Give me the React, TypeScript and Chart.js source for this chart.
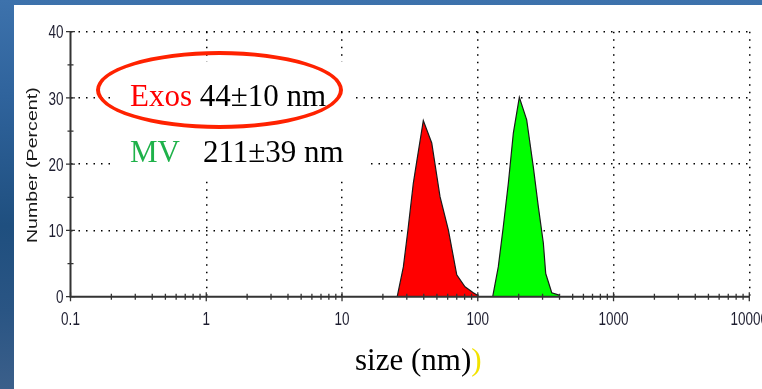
import React, { useEffect, useRef } from 'react';
import { Chart, registerables } from 'chart.js';

Chart.register(...registerables);

// ---- data (size in nm, number %) ----
const exosSize = [25.5, 28.3, 30.6, 33.5, 35.5, 39.7, 45.8, 52.7, 60.7, 70.0, 80.5, 92.7, 100.9];
const exosPct = [0, 4.5, 10.1, 17.1, 20.4, 26.6, 23.2, 15.1, 10.1, 3.3, 1.5, 0.6, 0.15];

const mvSize = [128.8, 141.6, 154.2, 167.9, 182.8, 202.3, 229.2, 256.4, 279.2, 304, 316.5, 350.6, 403.6];
const mvPct = [0, 4.5, 10.6, 17.1, 24.7, 30.1, 26.7, 19.6, 13.6, 8.1, 3.5, 0.6, 0.2];

const xTickValues = [0.1, 1, 10, 100, 1000, 10000];
const xTickLabels = ['0.1', '1', '10', '100', '1000', '10000'];
const yTickValues = [0, 10, 20, 30, 40];
const yTickLabels = ['0', '10', '20', '30', '40'];
const yMinorValues = [5, 15, 25, 35];
const xMinorMultipliers = [2, 3, 4, 5, 6, 7, 8, 9];

const yAxisTitle = 'Number (Percent)';

const AXIS_COLOR = '#333';
const LABEL_COLOR = '#1e1e30';
const STRETCH = 1.4;
const LABEL_FONT = '13.5px "Liberation Sans", Arial, sans-serif';
const TITLE_FONT = '14px "Liberation Sans", Arial, sans-serif';
const SERIF = '"Liberation Serif", "Times New Roman", serif';

const isDecade = (v: number) => Math.abs(Math.log10(v) - Math.round(Math.log10(v))) < 1e-6;

const axisPlugin = {
  id: 'axisDeco',
  afterDraw(chart: any) {
    const { ctx } = chart;
    const x = chart.scales.x;
    const y = chart.scales.y;
    const x0 = x.getPixelForValue(xTickValues[0]);
    const xr = x.getPixelForValue(xTickValues[xTickValues.length - 1]);
    const y0 = y.getPixelForValue(yTickValues[0]);
    const yt = y.getPixelForValue(yTickValues[yTickValues.length - 1]);
    ctx.save();
    // axis lines
    ctx.strokeStyle = AXIS_COLOR;
    ctx.lineWidth = 2;
    ctx.beginPath();
    ctx.moveTo(x0, yt);
    ctx.lineTo(x0, y0);
    ctx.lineTo(xr, y0);
    ctx.stroke();
    // ticks
    ctx.lineWidth = 1.3;
    ctx.beginPath();
    xTickValues.forEach((d, i) => {
      const px = x.getPixelForValue(d);
      ctx.moveTo(px, y0 - 4.5);
      ctx.lineTo(px, y0 + 4.5);
      if (i < xTickValues.length - 1) {
        xMinorMultipliers.forEach((m) => {
          const mp = x.getPixelForValue(d * m);
          ctx.moveTo(mp, y0 - 3);
          ctx.lineTo(mp, y0 + 3);
        });
      }
    });
    yTickValues.forEach((v) => {
      const py = y.getPixelForValue(v);
      ctx.moveTo(x0 - 4.5, py);
      ctx.lineTo(x0 + 4.5, py);
    });
    yMinorValues.forEach((v) => {
      const py = y.getPixelForValue(v);
      ctx.moveTo(x0 - 3, py);
      ctx.lineTo(x0 + 3, py);
    });
    ctx.stroke();

    // tick labels (vertically stretched like the reference)
    ctx.fillStyle = LABEL_COLOR;
    ctx.font = LABEL_FONT;
    ctx.textBaseline = 'middle';
    xTickValues.forEach((v, i) => {
      const px = x.getPixelForValue(v);
      ctx.save();
      ctx.translate(px, y0 + 23);
      ctx.scale(1, STRETCH);
      ctx.textAlign = 'center';
      ctx.fillText(xTickLabels[i], 0, 0);
      ctx.restore();
    });
    yTickValues.forEach((v, i) => {
      const py = y.getPixelForValue(v);
      ctx.save();
      ctx.translate(x0 - 7, py + 1.5);
      ctx.scale(1, STRETCH);
      ctx.textAlign = 'right';
      ctx.fillText(yTickLabels[i], 0, 0);
      ctx.restore();
    });
    // y axis title
    ctx.save();
    ctx.font = TITLE_FONT;
    ctx.fillStyle = '#1a1a1a';
    ctx.translate(18.7, (y0 + yt) / 2 + 1);
    ctx.rotate(-Math.PI / 2);
    ctx.scale(STRETCH, 1);
    ctx.textAlign = 'center';
    ctx.fillText(yAxisTitle, 0, 0);
    ctx.restore();

    ctx.restore();
  },
};

export default function App() {
  const canvasRef = useRef<HTMLCanvasElement | null>(null);

  useEffect(() => {
    document.body.style.margin = '0';
    const canvas = canvasRef.current;
    if (!canvas) return;
    const chart = new Chart(canvas, {
      type: 'line',
      data: {
        datasets: [
          {
            label: 'Exos',
            data: exosSize.map((s, i) => ({ x: s, y: exosPct[i] })),
            fill: 'origin',
            backgroundColor: '#ff0000',
            borderColor: '#1a1a1a',
            borderWidth: 1.2,
            pointRadius: 0,
            tension: 0,
          },
          {
            label: 'MV',
            data: mvSize.map((s, i) => ({ x: s, y: mvPct[i] })),
            fill: 'origin',
            backgroundColor: '#00ff00',
            borderColor: '#1a1a1a',
            borderWidth: 1.2,
            pointRadius: 0,
            tension: 0,
          },
        ],
      },
      options: {
        animation: false,
        responsive: false,
        layout: { padding: { left: 56.5, right: 12.7, top: 26.7, bottom: 92.3 } },
        plugins: { legend: { display: false }, tooltip: { enabled: false } },
        scales: {
          x: {
            type: 'logarithmic',
            min: xTickValues[0],
            max: xTickValues[xTickValues.length - 1],
            afterBuildTicks: (s: any) => {
              s.ticks = xTickValues.map((v) => ({ value: v, major: true }));
            },
            afterFit: (s: any) => {
              s.height = 0;
            },
            ticks: { display: false, autoSkip: false },
            grid: {
              drawTicks: false,
              lineWidth: 1.5,
              color: (c: any) => {
                const v = c.tick ? c.tick.value : undefined;
                return v !== undefined && v > xTickValues[0] && isDecade(v) ? '#000' : 'rgba(0,0,0,0)';
              },
            },
            border: { display: false, dash: [1.5, 6] },
          },
          y: {
            type: 'linear',
            min: yTickValues[0],
            max: yTickValues[yTickValues.length - 1],
            afterBuildTicks: (s: any) => {
              s.ticks = yTickValues.map((v) => ({ value: v }));
            },
            afterFit: (s: any) => {
              s.width = 0;
            },
            ticks: { display: false, autoSkip: false },
            grid: {
              drawTicks: false,
              lineWidth: 1.5,
              color: (c: any) => {
                const v = c.tick ? c.tick.value : undefined;
                return v !== undefined && v > yTickValues[0] ? '#000' : 'rgba(0,0,0,0)';
              },
            },
            border: { display: false, dash: [1.5, 6] },
          },
        },
      },
      plugins: [axisPlugin],
    } as any);
    return () => chart.destroy();
  }, []);

  const textBase: React.CSSProperties = {
    position: 'absolute',
    font: `31px ${SERIF}`,
    lineHeight: '31px',
    whiteSpace: 'pre',
    color: '#000',
  };

  return (
    <div
      style={{
        position: 'fixed',
        left: 0,
        top: 0,
        width: 762,
        height: 389,
        overflow: 'hidden',
        background:
          'linear-gradient(180deg, #3d72ac 0%, #2f639c 25%, #1f4f7f 58%, #2a5584 80%, #3b5f8a 100%)',
      }}
    >
      <div style={{ position: 'absolute', left: 14, top: 5, width: 748, height: 384, background: '#fff' }}>
        <canvas ref={canvasRef} width={748} height={384} style={{ display: 'block' }} />
      </div>
      {/* white boxes behind the annotation text */}
      <div style={{ position: 'absolute', left: 112, top: 62, width: 240, height: 68, background: '#fff' }} />
      <div style={{ position: 'absolute', left: 112, top: 130, width: 258, height: 50, background: '#fff' }} />
      <div
        style={{
          position: 'absolute',
          left: 96,
          top: 51,
          width: 247,
          height: 78,
          border: '4.5px solid #ff2200',
          borderRadius: '50%',
          boxSizing: 'border-box',
        }}
      />
      <div style={{ ...textBase, left: 130, top: 80 }}>
        <span style={{ color: '#ff0000' }}>Exos</span> 44±10 nm
      </div>
      <div style={{ ...textBase, left: 130, top: 136, color: '#1fb24a' }}>MV</div>
      <div style={{ ...textBase, left: 203, top: 136 }}>211±39 nm</div>
      <div style={{ ...textBase, left: 355, top: 344 }}>
        size (nm)<span style={{ color: '#f2e200' }}>)</span>
      </div>
    </div>
  );
}
